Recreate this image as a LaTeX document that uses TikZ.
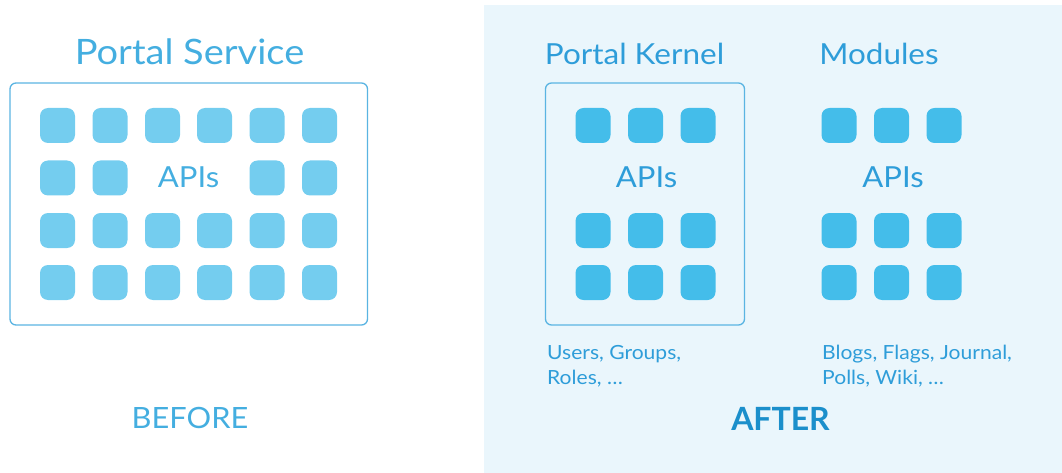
\documentclass[tikz,border=0pt]{standalone}
\usepackage{graphicx}
\usepackage{fontspec}
\setmainfont{Lato}
\definecolor{panel}{HTML}{EAF6FC}
\definecolor{sqlight}{HTML}{74CDEF}
\definecolor{sqdark}{HTML}{44BDEA}
\definecolor{frame}{HTML}{5AB4E2}
\definecolor{txt}{HTML}{44AEE0}
\definecolor{txtr}{HTML}{2E9DD9}
\definecolor{txtdark}{HTML}{1B8FCB}
\newcommand\hstretch[2]{\scalebox{#1}[1]{#2}}
\tikzset{
  sq/.style={rectangle, rounded corners=8pt, minimum size=35pt, inner sep=0pt, draw=none},
  sql/.style={sq, fill=sqlight},
  sqd/.style={sq, fill=sqdark},
  lbl/.style={inner sep=0pt, anchor=base},
  small/.style={text=txtr, inner sep=0pt, anchor=north west, font=\fontsize{19.5}{25}\selectfont},
  cont/.style={draw=frame, line width=1.3pt, rounded corners=6pt}
}
\begin{document}
\begin{tikzpicture}[x=1pt,y=-1pt]
\useasboundingbox (0,0) rectangle (1062,473);
% panel
\fill[panel] (484,5) rectangle (1062,473);
% BEFORE side
\node[lbl, text=txt, font=\fontsize{35}{40}\selectfont] (ps) at (189.5,65) {\hstretch{1.086}{Portal Service}};
\draw[cont] (10,83) rectangle (367.5,325);
\foreach \r/\y in {1/125.5,2/178,3/230.5,4/282.5}{
  \foreach \c/\x in {1/57.5,2/110,3/162.5,4/214.5,5/267,6/319.5}{
    \pgfmathtruncatemacro{\skipit}{(\r==2 && (\c==3 || \c==4)) ? 1 : 0}
    \ifnum\skipit=0
      \node[sql] (L-\r-\c) at (\x,\y) {};
    \fi
  }
}
\node[lbl, text=txt, font=\fontsize{29}{34}\selectfont] (apisL) at (188.5,187) {\hstretch{1.07}{APIs}};
\node[lbl, text=txt, font=\fontsize{29.3}{34}\selectfont] (before) at (190,428) {\hstretch{1.05}{BEFORE}};
% AFTER side
\node[lbl, text=txtr, font=\fontsize{29}{34}\selectfont] (pk) at (634.5,64.5) {\hstretch{1.086}{Portal Kernel}};
\node[lbl, text=txtr, font=\fontsize{29}{34}\selectfont] (mod) at (879,64.5) {\hstretch{1.083}{Modules}};
\draw[cont] (545.5,83) rectangle (744.5,325);
\foreach \r/\y in {1/125.5,3/230.5,4/282.5}{
  \foreach \c/\x in {1/593,2/645.5,3/698}{
    \node[sqd] (K-\r-\c) at (\x,\y) {};
  }
  \foreach \c/\x in {1/839,2/891.5,3/944}{
    \node[sqd] (M-\r-\c) at (\x,\y) {};
  }
}
\node[lbl, text=txtr, font=\fontsize{29}{34}\selectfont] (apisK) at (646.5,187.5) {\hstretch{1.07}{APIs}};
\node[lbl, text=txtr, font=\fontsize{29}{34}\selectfont] (apisM) at (893,187.5) {\hstretch{1.07}{APIs}};
\node[small] (kl) at (547,342) {\hstretch{1.08}{\begin{tabular}{@{}l@{}}Users, Groups,\\Roles, \dots\end{tabular}}};
\node[small] (ml) at (822,342) {\hstretch{1.08}{\begin{tabular}{@{}l@{}}Blogs, Flags, Journal,\\Polls, Wiki, \dots\end{tabular}}};
\node[lbl, text=txtdark, font=\fontsize{32}{36}\selectfont\bfseries] (after) at (780.5,430) {AFTER};
\end{tikzpicture}
\end{document}
